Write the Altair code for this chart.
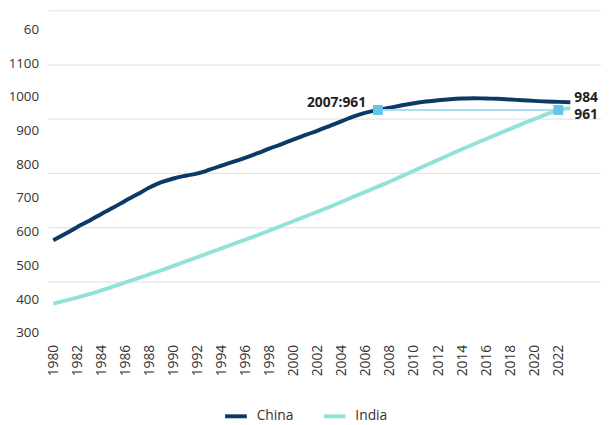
import altair as alt
import pandas as pd

years = list(range(1980, 2024))
china = [575, 594, 614, 633, 653, 672, 692, 711, 731, 747,
         758, 766, 773, 784, 796, 808, 820, 833, 847, 860,
         874, 887, 900, 914, 928, 942, 953, 961, 968, 975,
         981, 986, 990, 993, 995, 996, 995, 994, 992, 990,
         988, 986, 985, 984]
india = [387, 396, 405, 415, 426, 438, 450, 462, 474, 486,
         499, 512, 525, 538, 551, 564, 577, 590, 604, 618,
         632, 646, 660, 674, 689, 704, 719, 734, 749, 765,
         781, 797, 813, 829, 845, 860, 875, 890, 905, 920,
         934, 948, 961, 966]
series_names = ["China", "India"]
series_colors = ["#0b3a67", "#93e2d9"]

x_tick_values = list(range(1980, 2023, 2))
y_tick_values = [300, 400, 500, 600, 700, 800, 900, 1000, 1100, 1200]
y_tick_labels = ["300", "400", "500", "600", "700", "800", "900", "1000", "1100", "60"]
grid_values = [451, 612, 773, 934, 1094, 1255]

marker_years = [2007, 2022]
marker_values = [961, 961]

label_years = [2007, 2023, 2023]
label_values = [961, 984, 966]
label_texts = ["2007:961", "984", "961"]

FONT = "Open Sans"

df = pd.DataFrame({
    "year": years * 2,
    "value": china + india,
    "country": ["China"] * len(years) + ["India"] * len(years),
})
grid_df = pd.DataFrame({"year": [1980] * len(grid_values), "value": grid_values})
marker_df = pd.DataFrame({"year": marker_years, "value": marker_values})
conn_df = pd.DataFrame({"year": [marker_years[0]], "year2": [marker_years[1]],
                        "value": [marker_values[0]]})
lab_df = pd.DataFrame({"year": label_years, "value": label_values, "text": label_texts})

xscale = alt.Scale(domain=[1979.6, 2025.55], nice=False, zero=False)
yscale = alt.Scale(domain=[290, 1255], nice=False, zero=False)

label_expr = "datum.label"
for v, l in zip(y_tick_values, y_tick_labels):
    label_expr = f"datum.value == {v} ? '{l}' : ({label_expr})"

x_axis = alt.Axis(values=x_tick_values, format="d", labelAngle=-90, title=None,
                  grid=False, ticks=False, domain=False, labelPadding=8,
                  labelFont=FONT, labelFontSize=14, labelColor="#333333",
                  labelFlush=False, labelOverlap=False)
y_axis = alt.Axis(values=y_tick_values, title=None, grid=False, ticks=False,
                  domain=False, labelPadding=10, labelFont=FONT, labelFontSize=13.5,
                  labelColor="#333333", labelFlush=False, labelOverlap=False,
                  labelExpr=label_expr)

X = alt.X("year:Q", scale=xscale, axis=x_axis)
Y = alt.Y("value:Q", scale=yscale, axis=y_axis)

grid = alt.Chart(grid_df).mark_rule(color="#dedede", strokeWidth=1).encode(y=Y)

lines = alt.Chart(df).mark_line(strokeWidth=4, interpolate="monotone").encode(
    x=X, y=Y,
    color=alt.Color("country:N", scale=alt.Scale(domain=series_names, range=series_colors),
                    legend=alt.Legend(title=None, orient="none", direction="horizontal",
                                      legendX=177, legendY=398, symbolType="stroke",
                                      symbolStrokeWidth=4, symbolSize=484, labelFont=FONT,
                                      labelFontSize=14, labelColor="#333333",
                                      columnPadding=22, labelOffset=8, padding=0)),
)

conn = alt.Chart(conn_df).mark_rule(color="#a9def0", strokeWidth=2).encode(
    x=X, x2="year2:Q", y=Y
)

markers = alt.Chart(marker_df).mark_square(size=100, color="#64c4ea", opacity=1).encode(
    x=X, y=Y
)

def text_layer(idx, align, dx, dy):
    return alt.Chart(lab_df.iloc[[idx]]).mark_text(
        font=FONT, fontSize=14, fontWeight="bold", color="#222222", align=align,
        baseline="middle", dx=dx, dy=dy
    ).encode(x=X, y=Y, text="text:N")

lab_2007 = text_layer(0, "right", -12, -7)
lab_china = text_layer(1, "left", 4, -4)
lab_india = text_layer(2, "left", 4, 7)

chart = alt.layer(grid, lines, conn, markers, lab_2007, lab_china, lab_india).properties(
    width=560, height=330,
    autosize=alt.AutoSizeParams(type="none"),
    padding={"left": 41, "top": 0, "right": 0, "bottom": 87},
).configure(font=FONT).configure_view(stroke=None)

chart.save("out.html", embed_options={"renderer": "svg", "actions": False})
